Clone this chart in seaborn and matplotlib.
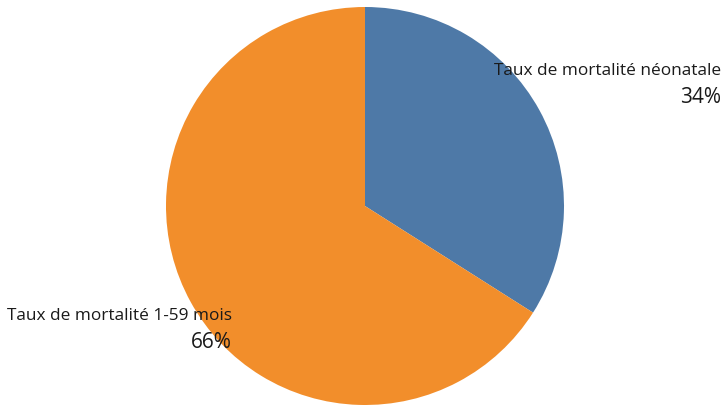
import matplotlib
matplotlib.use("Agg")
import matplotlib.pyplot as plt
import seaborn as sns

categories = ["Taux de mortalité néonatale", "Taux de mortalité 1-59 mois"]
shares = [34, 66]
colors = ["#4e79a7", "#f28e2b"]

sns.set_style("white")
plt.rcParams["font.family"] = ["Open Sans", "DejaVu Sans"]

W, H = 725, 406
fig = plt.figure(figsize=(W / 100, H / 100), dpi=100)
cx, cy, r = 365, 207, 199
ax = fig.add_axes([(cx - r) / W, (H - cy - r) / H, 2 * r / W, 2 * r / H])
ax.pie(shares, colors=colors, startangle=90, counterclock=False, radius=1,
       wedgeprops={"linewidth": 0})
ax.set_xlim(-1, 1)
ax.set_ylim(-1, 1)
ax.axis("off")

# labels (pixel positions from the reference)
def px(x, y):
    return x / W, 1 - y / H

fig.text(*px(721, 75), categories[0], ha="right", va="baseline", fontsize=12.4, color="#1a1a1a")
fig.text(*px(721, 103), f"{shares[0]}%", ha="right", va="baseline", fontsize=15, color="#1a1a1a")
fig.text(*px(7, 320), categories[1], ha="left", va="baseline", fontsize=12.4, color="#1a1a1a")
fig.text(*px(232, 348), f"{shares[1]}%", ha="right", va="baseline", fontsize=15, color="#1a1a1a")

fig.savefig("out.png", dpi=100)
